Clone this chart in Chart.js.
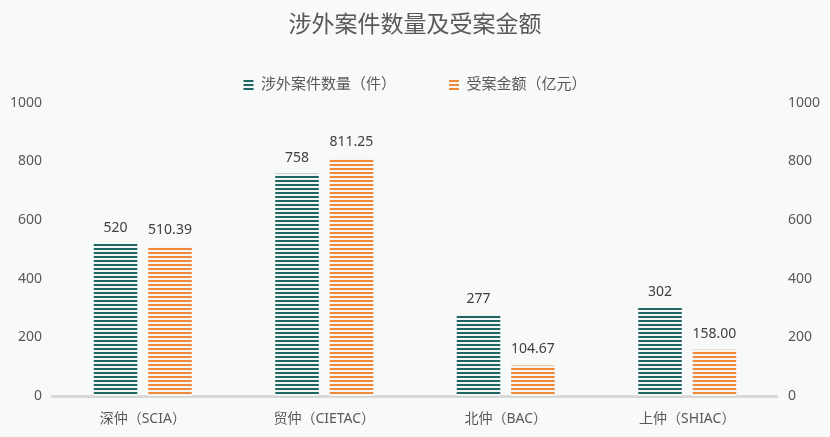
<!DOCTYPE html>
<html>
<head>
<meta charset="utf-8">
<script src="https://cdn.jsdelivr.net/npm/chart.js@4"></script>
<style>
  html, body { margin: 0; padding: 0; background: #f8f9f9; }
  #wrap { width: 830px; height: 437px; }
</style>
</head>
<body>
<div id="wrap"><canvas id="chart"></canvas></div>
<script>
const categories = ['深仲（SCIA）', '贸仲（CIETAC）', '北仲（BAC）', '上仲（SHIAC）']
const caseCounts = [520, 758, 277, 302]
const amounts = [510.39, 811.25, 104.67, 158.00]
const amountLabels = ['510.39', '811.25', '104.67', '158.00']
const tickValues = [0, 200, 400, 600, 800, 1000]

const FONT = "'Noto Sans', 'Noto Sans CJK SC', sans-serif"

// striped fill, like the reference bars
function stripes(color) {
    let c = document.createElement('canvas')
    c.width = 4
    c.height = 4
    let g = c.getContext('2d')
    g.fillStyle = '#f4f6f6'
    g.fillRect(0, 0, 4, 4)
    g.fillStyle = color
    g.fillRect(0, 0, 4, 2)
    return g.createPattern(c, 'repeat')
}

const ctx = document.getElementById('chart').getContext('2d')
const tealFill = stripes('#1f6664')
const orangeFill = stripes('#f08a3a')

// draw the value above each bar
const valueLabels = {
    id: 'valueLabels',
    afterDatasetsDraw(chart) {
        const g = chart.ctx
        g.save()
        g.font = "14px " + FONT
        g.fillStyle = '#404040'
        g.textAlign = 'center'
        g.textBaseline = 'bottom'
        chart.data.datasets.forEach((ds, i) => {
            chart.getDatasetMeta(i).data.forEach((bar, j) => {
                const txt = i === 0 ? String(caseCounts[j]) : amountLabels[j]
                g.fillText(txt, bar.x, bar.y - 9)
            })
        })
        g.restore()
    }
}

const tickOpts = {
    color: '#595959',
    font: { family: FONT, size: 14 },
    padding: 10,
    callback: v => String(v)
}

const chart = new Chart(ctx, {
    type: 'bar',
    data: {
        labels: categories,
        datasets: [{
            label: '涉外案件数量（件）',
            data: caseCounts,
            backgroundColor: tealFill,
            borderWidth: 0,
            yAxisID: 'y'
        }, {
            label: '受案金额（亿元）',
            data: amounts,
            backgroundColor: orangeFill,
            borderWidth: 0,
            yAxisID: 'y'
        }]
    },
    options: {
        responsive: true,
        maintainAspectRatio: false,
        animation: false,
        categoryPercentage: 0.6,
        barPercentage: 0.8,
        layout: { padding: { left: 0, right: 0, top: 4, bottom: 4 } },
        plugins: {
            title: {
                display: true,
                text: '涉外案件数量及受案金额',
                color: '#595959',
                font: { family: FONT, size: 23, weight: 'normal' },
                padding: { top: 8, bottom: 30 }
            },
            legend: {
                position: 'top',
                labels: {
                    color: '#595959',
                    font: { family: FONT, size: 15 },
                    boxWidth: 10,
                    boxHeight: 10,
                    padding: 8,
                    generateLabels: chart => {
                        const items = Chart.defaults.plugins.legend.labels.generateLabels(chart)
                        // wider gap between the two entries
                        items[0].text = items[0].text + '\u2003\u2003\u2003'
                        return items
                    }
                }
            },
            tooltip: { enabled: false }
        },
        scales: {
            x: {
                grid: { display: false },
                border: { color: '#d9d9d9', width: 3 },
                ticks: { color: '#595959', font: { family: FONT, size: 14 }, padding: 6 }
            },
            y: {
                min: 0,
                max: 1000,
                afterBuildTicks: axis => { axis.ticks = tickValues.map(v => ({ value: v })) },
                grid: { display: false, drawTicks: false },
                border: { display: false },
                ticks: tickOpts
            },
            y2: {
                position: 'right',
                min: 0,
                max: 1000,
                afterBuildTicks: axis => { axis.ticks = tickValues.map(v => ({ value: v })) },
                grid: { display: false, drawTicks: false },
                border: { display: false },
                ticks: tickOpts
            }
        }
    },
    plugins: [valueLabels]
})
</script>
</body>
</html>
